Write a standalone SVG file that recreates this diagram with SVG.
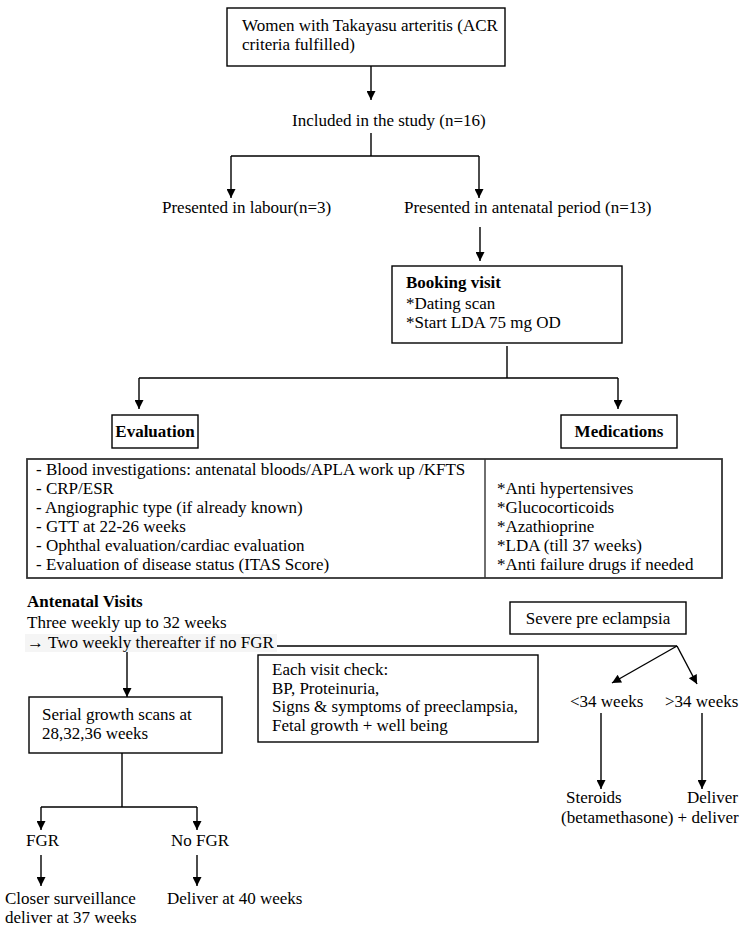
<svg xmlns="http://www.w3.org/2000/svg" width="750" height="931" viewBox="0 0 750 931">
<defs>
<marker id="ah" viewBox="0 0 10 10" refX="10" refY="5" markerUnits="userSpaceOnUse" markerWidth="11" markerHeight="9" orient="auto">
<path d="M0,0 L10,5 L0,10 z" fill="#000"/>
</marker>
<style>
text{font-family:"Liberation Serif","Times New Roman",serif;font-size:17px;fill:#000}
.b{font-weight:bold}
.box{fill:#fff;stroke:#000;stroke-width:1.4}
.tbl{fill:#fff;stroke:#333;stroke-width:1.8}
.ln{fill:none;stroke:#000;stroke-width:1.4}
.ar{fill:none;stroke:#000;stroke-width:1.4;marker-end:url(#ah)}
</style>
</defs>
<rect width="750" height="931" fill="#fff"/>
<g id="connectors">
<path class="ar" d="M371,66 V100"/>
<path class="ln" d="M371,133 V156 M231,156 H479"/>
<path class="ar" d="M231,156 V198"/>
<path class="ar" d="M479,156 V198"/>
<path class="ar" d="M480,227 V261"/>
<path class="ln" d="M507,346 V378 M139,378 H618"/>
<path class="ar" d="M139,378 V409"/>
<path class="ar" d="M618,378 V409"/>
<path class="ln" d="M277,646 H677"/>
<path class="ar" d="M677,646 L612,683"/>
<path class="ar" d="M677,646 L697,684"/>
<path class="ar" d="M127,652 V697"/>
<path class="ln" d="M122,753 V807 M41,807 H197"/>
<path class="ar" d="M41,807 V830"/>
<path class="ar" d="M197,807 V830"/>
<path class="ar" d="M41,855 V886"/>
<path class="ar" d="M197,855 V886"/>
<path class="ar" d="M601,713 V789"/>
<path class="ar" d="M702,713 V789"/>
</g>
<g id="n1">
<rect class="box" x="227" y="8" width="278" height="58"/>
<text x="242" y="31">Women with Takayasu arteritis (ACR</text>
<text x="242" y="50">criteria fulfilled)</text>
</g>
<g id="n2"><text x="292" y="126">Included in the study (n=16)</text></g>
<g id="n3"><text x="162" y="213">Presented in labour(n=3)</text></g>
<g id="n4"><text x="404" y="213">Presented in antenatal period (n=13)</text></g>
<g id="n5">
<rect class="box" x="392" y="266" width="230" height="77"/>
<text class="b" x="406" y="288">Booking visit</text>
<text x="406" y="309">*Dating scan</text>
<text x="406" y="328">*Start LDA 75 mg OD</text>
</g>
<g id="n6">
<rect class="box" x="112" y="415" width="86" height="33"/>
<text class="b" x="155" y="437" text-anchor="middle">Evaluation</text>
</g>
<g id="n7">
<rect class="box" x="561" y="415" width="116" height="33"/>
<text class="b" x="619" y="437" text-anchor="middle">Medications</text>
</g>
<g id="n8">
<rect class="tbl" x="27" y="459" width="695" height="119"/>
<line x1="485" y1="459" x2="485" y2="578" stroke="#333" stroke-width="1.4"/>
<text x="36" y="475">- Blood investigations: antenatal bloods/APLA work up /KFTS</text>
<text x="36" y="494">- CRP/ESR</text>
<text x="36" y="513">- Angiographic type (if already known)</text>
<text x="36" y="532">- GTT at 22-26 weeks</text>
<text x="36" y="551">- Ophthal evaluation/cardiac evaluation</text>
<text x="36" y="570">- Evaluation of disease status (ITAS Score)</text>
<text x="497" y="494">*Anti hypertensives</text>
<text x="497" y="513">*Glucocorticoids</text>
<text x="497" y="532">*Azathioprine</text>
<text x="497" y="551">*LDA (till 37 weeks)</text>
<text x="497" y="570">*Anti failure drugs if needed</text>
</g>
<g id="n9">
<rect x="25" y="634" width="252" height="18" fill="#f5f5f5"/>
<text class="b" x="27" y="607">Antenatal Visits</text>
<text x="27" y="628">Three weekly up to 32 weeks</text>
<text x="27" y="648">→ Two weekly thereafter if no FGR</text>
</g>
<g id="n10">
<rect class="box" x="510" y="602" width="176" height="32"/>
<text x="598" y="624" text-anchor="middle">Severe pre eclampsia</text>
</g>
<g id="n11">
<rect class="box" x="258" y="655" width="280" height="87"/>
<text x="272" y="675">Each visit check:</text>
<text x="272" y="694">BP, Proteinuria,</text>
<text x="272" y="712">Signs &amp; symptoms of preeclampsia,</text>
<text x="272" y="731">Fetal growth + well being</text>
</g>
<g id="n12">
<rect class="box" x="29" y="697" width="193" height="56"/>
<text x="42" y="720">Serial growth scans at</text>
<text x="42" y="739">28,32,36 weeks</text>
</g>
<g id="n13"><text x="26" y="846">FGR</text></g>
<g id="n14"><text x="171" y="846">No FGR</text></g>
<g id="n15">
<text x="5" y="904">Closer surveillance</text>
<text x="5" y="923">deliver at 37 weeks</text>
</g>
<g id="n16"><text x="167" y="904">Deliver at 40 weeks</text></g>
<g id="n17"><text x="570" y="707">&lt;34 weeks</text></g>
<g id="n18"><text x="665" y="707">&gt;34 weeks</text></g>
<g id="n19">
<text x="566" y="803">Steroids</text>
<text x="738" y="803" text-anchor="end">Deliver</text>
<text x="561" y="823">(betamethasone) + deliver</text>
</g>
</svg>
